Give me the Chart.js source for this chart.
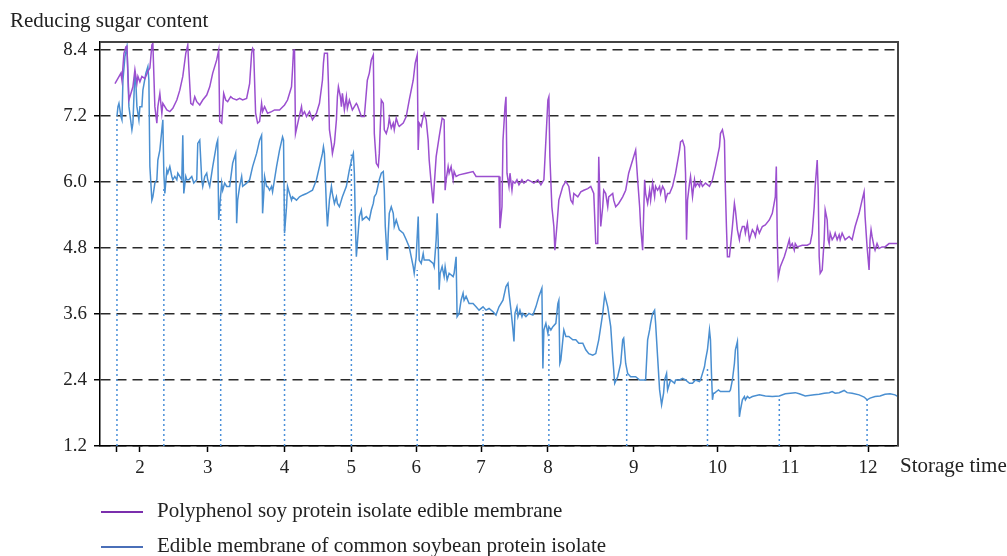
<!DOCTYPE html>
<html>
<head>
<meta charset="utf-8">
<script src="https://cdn.jsdelivr.net/npm/chart.js@4.4.1/dist/chart.umd.min.js"></script>
<style>
  html, body { margin: 0; padding: 0; background: #fff; }
  canvas { display: block; }
</style>
</head>
<body>
<canvas id="chart" width="1007" height="556"></canvas>
<script>
// x is the sample position along the storage-time axis (0..800)
const xTickPos = [17, 40, 108, 185, 252, 317, 382, 449, 535, 619, 692, 770];
const xTickLabels = ['', '2', '3', '4', '5', '6', '7', '8', '9', '10', '11', '12'];
const yTicks = [1.2, 2.4, 3.6, 4.8, 6.0, 7.2, 8.4];
const seriesNames = ['Polyphenol soy protein isolate edible membrane', 'Edible membrane of common soybean protein isolate'];

const polyphenol = [
  [15,7.79],[21,7.98],[22,7.85],[24,8.34],[26,8.46],[27,8.47],[29,7.49],[33,7.73],[35,8.04],[37,7.79],[38,7.92],[40,7.82],[42,7.92],[45,7.88],[48,8.01],[50,8.07],[52,8.49],[53,8.52],[55,7.37],[57,7.07],[58,7.37],[60,7.61],[62,7.25],[63,7.43],[67,7.31],[70,7.28],[73,7.34],[77,7.49],[80,7.67],[83,7.92],[86,8.34],[88,8.49],[89,8.10],[91,7.43],[93,7.40],[95,7.55],[97,7.46],[100,7.40],[103,7.49],[107,7.58],[110,7.73],[113,7.98],[117,8.22],[119,8.40],[120,7.10],[122,7.07],[124,7.61],[126,7.49],[128,7.46],[131,7.55],[133,7.52],[137,7.49],[140,7.52],[143,7.49],[147,7.52],[150,7.79],[152,8.34],[153,8.43],[154,8.40],[156,7.25],[158,7.07],[160,7.10],[162,7.43],[163,7.28],[165,7.37],[168,7.25],[172,7.28],[175,7.31],[180,7.31],[185,7.40],[188,7.49],[192,7.73],[193,8.04],[194,8.40],[195,8.40],[196,6.88],[199,7.13],[202,7.37],[203,7.22],[205,7.28],[207,7.19],[210,7.28],[213,7.13],[217,7.25],[220,7.43],[223,7.85],[224,8.16],[225,8.34],[228,8.34],[229,7.79],[230,6.95],[232,6.70],[233,6.52],[235,6.70],[237,7.13],[238,7.55],[239,7.73],[241,7.55],[242,7.37],[243,7.61],[245,7.31],[247,7.55],[248,7.34],[250,7.49],[253,7.31],[257,7.43],[258,7.40],[262,7.19],[265,7.19],[268,7.85],[270,7.98],[272,8.22],[274,8.31],[275,6.88],[277,6.34],[279,6.28],[280,6.52],[282,7.49],[284,7.43],[285,6.95],[287,6.88],[289,7.01],[290,7.16],[292,6.98],[294,7.07],[295,6.95],[297,7.16],[299,7.04],[300,7.01],[304,7.07],[307,7.19],[310,7.49],[314,7.85],[316,8.16],[318,8.31],[319,6.58],[320,7.07],[322,7.01],[324,7.19],[325,7.25],[327,7.13],[329,6.76],[330,6.40],[332,5.98],[334,5.61],[335,5.92],[337,6.46],[340,6.82],[343,7.16],[345,7.13],[346,5.85],[347,6.04],[349,6.28],[350,6.16],[352,6.28],[354,6.04],[355,6.19],[357,6.10],[360,6.13],[367,6.16],[374,6.19],[377,6.10],[387,6.10],[400,6.10],[401,5.16],[403,5.55],[404,6.76],[406,7.37],[407,7.55],[408,6.16],[410,5.92],[411,6.16],[413,5.85],[414,6.01],[416,5.98],[418,6.04],[420,5.95],[423,6.04],[425,5.98],[429,6.04],[432,6.01],[435,5.98],[439,6.04],[442,5.95],[445,6.04],[447,6.76],[449,7.49],[450,7.55],[451,6.46],[453,5.55],[455,5.19],[456,4.76],[458,5.19],[460,5.67],[464,5.92],[467,6.01],[470,5.92],[472,5.67],[474,5.61],[475,5.79],[479,5.73],[482,5.82],[485,5.85],[489,5.88],[492,5.92],[495,5.79],[497,4.88],[499,4.88],[500,6.46],[501,5.79],[502,5.19],[504,5.55],[505,5.85],[507,5.79],[509,5.55],[510,5.73],[514,5.79],[515,5.67],[517,5.55],[520,5.61],[524,5.73],[527,5.85],[530,6.16],[534,6.40],[537,6.58],[539,6.04],[541,5.55],[542,5.19],[544,4.76],[546,6.04],[547,5.79],[549,5.61],[551,5.85],[552,5.67],[554,5.98],[556,5.73],[557,5.92],[559,5.85],[561,5.92],[562,5.79],[564,5.92],[566,5.85],[567,5.67],[569,5.79],[571,5.79],[574,5.92],[577,6.16],[581,6.58],[582,6.73],[584,6.76],[586,6.64],[587,6.16],[588,4.95],[589,5.67],[591,5.98],[592,6.10],[594,5.73],[596,6.04],[597,5.92],[599,5.98],[601,5.92],[602,6.01],[604,5.92],[607,5.98],[611,5.92],[614,6.04],[617,6.28],[621,6.64],[622,6.88],[624,6.95],[626,6.76],[627,5.85],[628,5.19],[629,4.64],[631,4.64],[632,4.82],[634,5.19],[636,5.61],[637,5.49],[639,5.13],[641,4.95],[642,5.07],[644,5.19],[646,5.19],[647,5.07],[649,5.25],[651,4.95],[652,5.01],[654,5.13],[656,5.07],[657,5.01],[659,5.19],[661,5.07],[664,5.19],[667,5.22],[671,5.31],[674,5.43],[677,5.73],[678,6.28],[679,4.95],[680,4.28],[682,4.46],[686,4.64],[689,4.82],[691,4.95],[692,4.82],[694,4.88],[696,4.76],[697,4.88],[699,4.82],[704,4.85],[709,4.85],[712,4.88],[714,5.07],[716,5.55],[717,5.92],[719,6.40],[720,5.85],[721,4.64],[722,4.34],[724,4.40],[726,4.95],[727,5.49],[729,5.31],[730,4.95],[731,4.88],[732,5.07],[734,4.95],[736,5.01],[737,5.07],[739,4.95],[741,5.04],[742,4.95],[744,5.07],[747,4.95],[751,5.01],[754,4.95],[757,5.19],[761,5.43],[764,5.67],[766,5.82],[767,5.37],[769,4.82],[771,4.40],[772,4.95],[773,5.13],[774,5.01],[776,4.82],[777,4.76],[779,4.88],[781,4.79],[784,4.82],[787,4.82],[791,4.88],[794,4.88],[800,4.88]
];

const common = [
  [17,7.19],[18,7.37],[19,7.43],[21,7.19],[22,7.13],[23,7.85],[25,8.28],[27,8.46],[28,7.92],[29,7.37],[32,6.95],[33,7.07],[35,8.01],[36,7.79],[37,7.37],[39,7.13],[40,7.37],[42,7.37],[43,7.67],[46,7.98],[48,8.10],[49,7.85],[50,6.28],[52,5.67],[53,5.73],[55,5.98],[57,6.04],[58,6.40],[60,6.58],[62,6.95],[63,7.13],[64,6.16],[65,5.79],[67,6.22],[68,6.16],[70,6.28],[72,6.10],[73,6.04],[75,6.10],[77,6.04],[78,6.16],[80,6.10],[82,6.04],[83,6.85],[84,5.79],[86,6.10],[87,6.04],[89,6.04],[92,6.10],[94,5.98],[97,6.04],[98,6.70],[100,6.76],[102,6.04],[103,5.92],[105,6.10],[107,6.16],[108,6.04],[110,5.92],[113,6.28],[117,6.70],[118,6.76],[119,5.31],[120,5.55],[122,5.98],[123,5.85],[125,5.98],[127,5.92],[130,5.92],[133,6.34],[136,6.52],[137,5.25],[138,5.67],[140,5.92],[142,6.10],[143,5.92],[147,5.98],[150,6.04],[153,6.28],[157,6.52],[160,6.76],[162,6.85],[163,5.43],[164,5.73],[165,6.10],[167,5.92],[168,5.92],[170,5.85],[172,5.92],[173,5.82],[177,6.28],[180,6.58],[183,6.82],[184,6.76],[185,5.07],[187,5.55],[188,5.92],[190,5.79],[192,5.67],[193,5.73],[197,5.67],[200,5.73],[203,5.76],[207,5.79],[210,5.82],[213,5.85],[217,6.04],[220,6.28],[223,6.52],[224,6.64],[225,6.52],[227,5.55],[228,5.19],[230,5.67],[232,5.92],[233,5.79],[235,5.61],[237,5.73],[238,5.61],[240,5.55],[242,5.67],[243,5.73],[247,5.92],[250,6.22],[253,6.46],[254,6.52],[255,6.16],[256,5.25],[257,4.64],[258,4.88],[260,5.37],[262,5.49],[263,5.31],[267,5.37],[270,5.31],[272,5.49],[274,5.61],[275,5.73],[277,5.79],[280,6.04],[282,6.16],[284,6.19],[285,5.85],[286,5.19],[288,4.58],[289,5.07],[290,5.43],[292,5.55],[294,5.43],[295,5.19],[297,5.31],[299,5.19],[300,5.13],[304,5.07],[307,4.95],[310,4.82],[314,4.46],[315,4.34],[317,4.64],[319,5.37],[320,4.58],[322,4.52],[324,4.70],[325,4.58],[330,4.58],[334,4.52],[335,4.46],[337,4.95],[338,5.43],[339,4.95],[340,4.04],[341,4.34],[343,4.46],[345,4.28],[346,4.46],[348,4.22],[350,4.34],[354,4.28],[355,4.34],[357,4.64],[358,3.55],[360,3.61],[362,3.85],[364,3.98],[365,3.85],[367,3.92],[370,3.79],[374,3.79],[377,3.73],[380,3.67],[384,3.73],[387,3.67],[390,3.70],[394,3.64],[397,3.58],[400,3.73],[404,3.85],[407,4.10],[409,4.16],[410,3.98],[412,3.67],[414,3.31],[415,3.10],[416,3.61],[418,3.73],[419,3.55],[421,3.67],[423,3.55],[424,3.61],[427,3.55],[430,3.61],[434,3.58],[437,3.73],[440,3.92],[443,4.07],[444,2.61],[445,3.31],[447,3.43],[449,3.25],[450,3.37],[452,3.31],[454,3.37],[457,3.43],[459,3.79],[460,3.85],[461,2.70],[462,2.76],[464,3.13],[465,3.31],[467,3.19],[470,3.19],[474,3.13],[477,3.13],[480,3.07],[484,3.07],[487,2.95],[490,2.88],[494,2.85],[497,2.88],[500,3.13],[504,3.61],[506,3.95],[509,3.73],[512,3.37],[514,2.82],[516,2.34],[519,2.46],[522,2.70],[524,3.13],[525,3.16],[527,2.70],[529,2.52],[532,2.46],[537,2.46],[541,2.40],[547,2.40],[549,3.13],[551,3.31],[552,3.43],[554,3.61],[556,3.67],[557,3.43],[559,2.82],[561,2.22],[563,1.95],[565,2.16],[566,2.40],[568,2.52],[569,2.22],[571,2.34],[572,2.40],[574,2.37],[576,2.34],[577,2.40],[581,2.40],[584,2.43],[587,2.40],[591,2.34],[594,2.34],[597,2.40],[601,2.37],[602,2.40],[604,2.52],[606,2.64],[607,2.76],[609,2.95],[611,3.31],[612,3.13],[613,2.52],[614,2.04],[615,2.16],[616,2.16],[618,2.19],[620,2.22],[622,2.19],[626,2.19],[631,2.19],[632,2.22],[634,2.40],[636,2.70],[637,2.95],[639,3.10],[640,2.52],[641,1.73],[642,1.85],[644,2.04],[646,2.10],[647,2.04],[649,2.10],[651,2.07],[654,2.10],[661,2.13],[667,2.11],[674,2.10],[681,2.11],[687,2.15],[692,2.16],[697,2.17],[701,2.15],[707,2.11],[716,2.13],[721,2.14],[726,2.16],[731,2.17],[734,2.19],[737,2.16],[741,2.17],[746,2.21],[749,2.17],[754,2.16],[761,2.13],[766,2.09],[769,2.04],[772,2.07],[777,2.10],[782,2.11],[787,2.14],[792,2.15],[797,2.13],[800,2.10]
];

// dotted drop lines from the x axis up to the common-membrane curve
const dropX = [17, 64, 121, 185, 252, 318, 384, 450, 528, 609, 681, 769];
const dropTop = [7.2, 5.9, 5.7, 5.9, 6.5, 4.4, 3.67, 3.3, 2.55, 2.65, 2.11, 2.04];

const toPts = arr => arr.map(([x, y]) => ({ x, y }));
const dropPts = [];
dropX.forEach((x, i) => {
  dropPts.push({ x, y: yTicks[0] }, { x, y: dropTop[i] }, { x, y: null });
});

const serif = 'Liberation Serif';

const extras = {
  id: 'extras',
  afterDraw(chart) {
    const { ctx, chartArea: a } = chart;
    ctx.save();
    // top and right frame
    ctx.strokeStyle = '#444';
    ctx.lineWidth = 2;
    ctx.beginPath();
    ctx.moveTo(a.left, a.top);
    ctx.lineTo(a.right, a.top);
    ctx.lineTo(a.right, a.bottom);
    ctx.stroke();

    ctx.fillStyle = '#222';
    ctx.font = '21px "' + serif + '"';
    ctx.textBaseline = 'middle';
    ctx.textAlign = 'left';
    ctx.fillText('Reducing sugar content', 10, 21);
    ctx.fillText('Storage time', a.right + 2, a.bottom + 20);

    // legend
    const legendColors = ['#7b2fad', '#4a6fb8'];
    const legendY = [512, 547];
    seriesNames.forEach((name, i) => {
      ctx.strokeStyle = legendColors[i];
      ctx.lineWidth = 2;
      ctx.beginPath();
      ctx.moveTo(101, legendY[i]);
      ctx.lineTo(143, legendY[i]);
      ctx.stroke();
      ctx.fillText(name, 157, legendY[i] - 1);
    });
    ctx.restore();
  }
};

new Chart(document.getElementById('chart'), {
  type: 'line',
  data: {
    datasets: [
      {
        label: 'drop',
        data: dropPts,
        borderColor: '#4a90d9',
        borderWidth: 1.5,
        borderDash: [2, 3],
        pointRadius: 0,
        order: 3
      },
      {
        label: seriesNames[0],
        data: toPts(polyphenol),
        borderColor: '#9b4fcf',
        borderWidth: 1.5,
        pointRadius: 0,
        order: 1
      },
      {
        label: seriesNames[1],
        data: toPts(common),
        borderColor: '#4a8fd1',
        borderWidth: 1.5,
        pointRadius: 0,
        order: 2
      }
    ]
  },
  options: {
    responsive: false,
    animation: false,
    devicePixelRatio: 1,
    layout: { padding: { left: 10, right: 109, top: 42, bottom: 80 } },
    plugins: {
      legend: { display: false },
      tooltip: { enabled: false }
    },
    scales: {
      x: {
        type: 'linear',
        min: 0,
        max: 800,
        afterBuildTicks: s => { s.ticks = xTickPos.map(v => ({ value: v })); },
        afterFit: s => { s.height = 30; },
        ticks: {
          autoSkip: false,
          maxRotation: 0,
          padding: 5,
          color: '#222',
          font: { family: serif, size: 19 },
          callback: (v, i) => xTickLabels[i]
        },
        grid: { drawOnChartArea: false, tickLength: 6, tickColor: '#000', tickWidth: 1.5 },
        border: { color: '#000', width: 1.5 }
      },
      y: {
        min: 1.2,
        max: 8.545,
        afterBuildTicks: s => { s.ticks = yTicks.map(v => ({ value: v })); },
        afterFit: s => { s.width = 90; },
        ticks: {
          padding: 7,
          color: '#222',
          font: { family: serif, size: 19 },
          callback: v => v.toFixed(1)
        },
        grid: { color: '#2a2a2a', lineWidth: 1.5, tickLength: 6, tickColor: '#000', tickWidth: 1.5, tickBorderDash: [] },
        border: { color: '#000', width: 1.5, dash: [10, 6] }
      }
    }
  },
  plugins: [extras]
});
</script>
</body>
</html>
